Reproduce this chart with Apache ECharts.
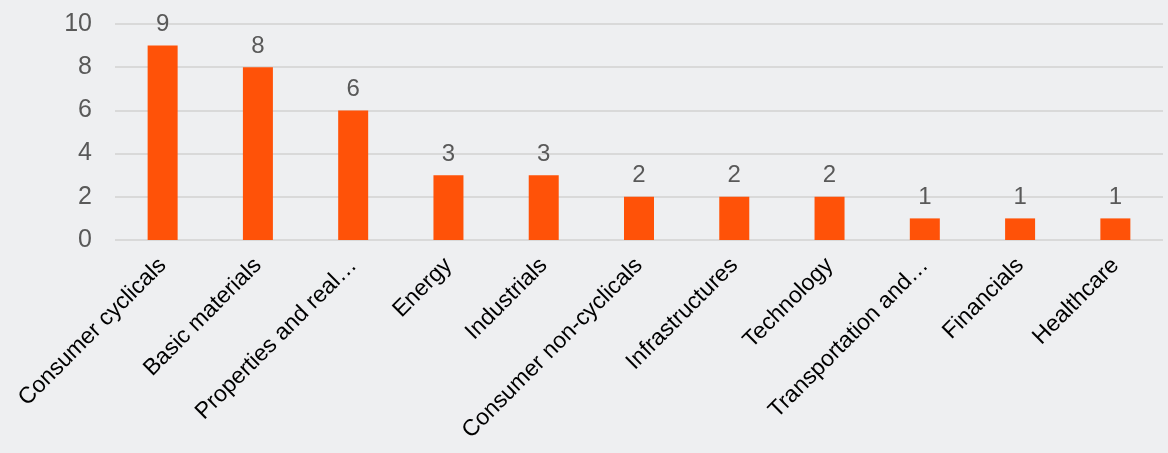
<!DOCTYPE html>
<html><head><meta charset="utf-8">
<script src="https://cdn.jsdelivr.net/npm/echarts@6/dist/echarts.min.js"></script>
<style>html,body{margin:0;padding:0;background:#eeeff1;}#c{width:1168px;height:453px;}</style>
</head><body><div id="c"></div>
<script>
const categories = ["Consumer cyclicals","Basic materials","Properties and real…","Energy","Industrials","Consumer non-cyclicals","Infrastructures","Technology","Transportation and…","Financials","Healthcare"];
const counts = [9,8,6,3,3,2,2,2,1,1,1];
const yTicks = [0,2,4,6,8,10];

const chart = echarts.init(document.getElementById('c'));
chart.setOption({
  backgroundColor: '#eeeff1',
  animation: false,
  grid: {left: 115, right: 5, top: 24, bottom: 213, containLabel: false},
  xAxis: {
    type: 'category', data: categories,
    axisLine: {show: false}, axisTick: {show: false},
    axisLabel: {rotate: 45, interval: 0, margin: 22, color: '#000', fontSize: 23, fontFamily: 'Liberation Sans, Arial, sans-serif'}
  },
  yAxis: {
    type: 'value', min: yTicks[0], max: yTicks[yTicks.length-1], interval: 2,
    axisLine: {show: false}, axisTick: {show: false},
    axisLabel: {margin: 23, color: '#595959', fontSize: 25, fontFamily: 'Liberation Sans, Arial, sans-serif'},
    splitLine: {lineStyle: {color: '#d9d9d9', width: 2}}
  },
  series: [{
    type: 'bar', data: counts, barWidth: 30,
    itemStyle: {color: '#ff5208'},
    label: {show: true, position: 'top', distance: 9, color: '#595959', fontSize: 24, fontFamily: 'Liberation Sans, Arial, sans-serif'}
  }]
});
</script></body></html>
